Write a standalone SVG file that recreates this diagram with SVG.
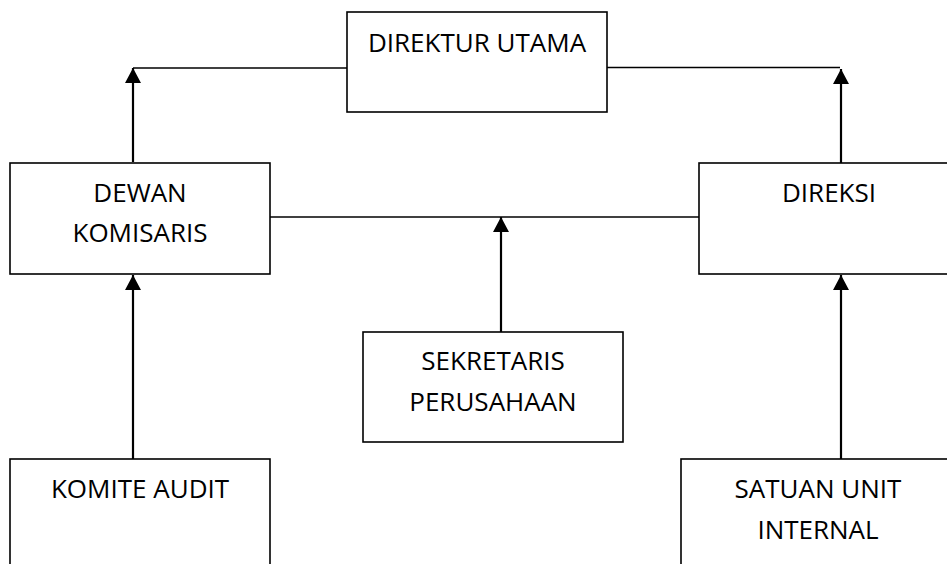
<svg xmlns="http://www.w3.org/2000/svg" width="947" height="564" viewBox="0 0 947 564">
<defs>
<marker id="arr" markerUnits="userSpaceOnUse" markerWidth="16" markerHeight="16" viewBox="0 0 16 16" refX="15" refY="8" orient="auto">
<path d="M0,0 L15,8 L0,16 Z" fill="#000"/>
</marker>
<style>
.box{fill:#fff;stroke:#000;stroke-width:1.6}
.t{font-family:"Open Sans","Noto Sans",sans-serif;font-size:26px;fill:#000;text-anchor:middle}
.ln{stroke:#000;stroke-width:1.6;fill:none}
.ar{stroke:#000;stroke-width:2.2;fill:none;marker-end:url(#arr)}
</style>
</defs>
<rect width="947" height="564" fill="#fff"/>
<g id="connectors">
<line class="ln" x1="347" y1="68" x2="133" y2="68"/>
<line class="ar" x1="133" y1="162" x2="133" y2="68"/>
<line class="ln" x1="607" y1="67.5" x2="840" y2="67.5"/>
<line class="ar" x1="841" y1="163" x2="841" y2="69"/>
<line class="ln" x1="270" y1="217" x2="699" y2="217"/>
<line class="ar" x1="501" y1="332" x2="501" y2="217"/>
<line class="ar" x1="133" y1="459" x2="133" y2="275"/>
<line class="ar" x1="841" y1="459" x2="841" y2="275"/>
</g>
<g id="direktur-utama">
<rect class="box" x="347" y="12" width="260" height="100"/>
<text class="t" x="477" y="52">DIREKTUR UTAMA</text>
</g>
<g id="dewan-komisaris">
<rect class="box" x="10" y="163" width="260" height="111"/>
<text class="t" x="140" y="202">DEWAN</text>
<text class="t" x="140" y="242">KOMISARIS</text>
</g>
<g id="direksi">
<rect class="box" x="699" y="163" width="260" height="111"/>
<text class="t" x="829" y="202">DIREKSI</text>
</g>
<g id="sekretaris-perusahaan">
<rect class="box" x="363" y="332" width="260" height="110"/>
<text class="t" x="493" y="370">SEKRETARIS</text>
<text class="t" x="493" y="411">PERUSAHAAN</text>
</g>
<g id="komite-audit">
<rect class="box" x="10" y="459" width="260" height="120"/>
<text class="t" x="140" y="498">KOMITE AUDIT</text>
</g>
<g id="satuan-unit-internal">
<rect class="box" x="681" y="459" width="274" height="120"/>
<text class="t" x="818" y="498">SATUAN UNIT</text>
<text class="t" x="818" y="539">INTERNAL</text>
</g>
</svg>
